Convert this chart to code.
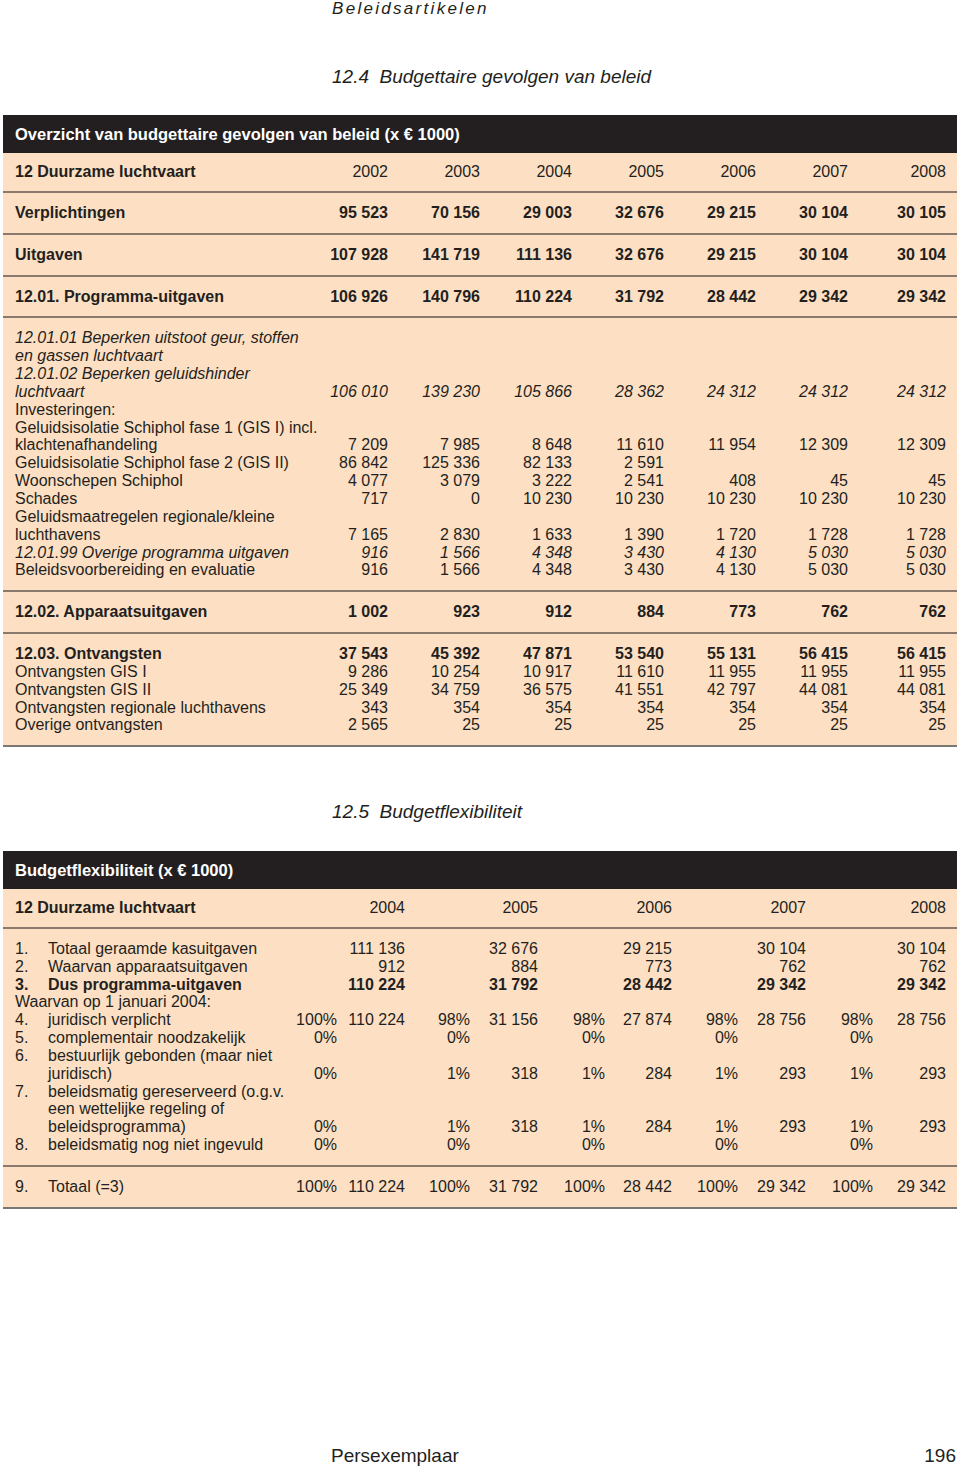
<!DOCTYPE html>
<html>
<head>
<meta charset="utf-8">
<script src="https://cdn.jsdelivr.net/npm/chart.js@4/dist/chart.umd.min.js"></script>
<style>
    body { margin: 0; width: 960px; height: 1469px; position: relative; overflow: hidden; background: #fff;
           font-family: "Liberation Sans Narrow", "Arial Narrow", "Liberation Sans", sans-serif; color: #231f20; }
    .abs { position: absolute; white-space: nowrap; }
    .tbl { position: absolute; left: 3px; width: 954px; background: #fddfc4; }
    .head { background: #231f20; color: #fff; font-weight: bold; height: 38px; line-height: 38px; padding-left: 12px; font-size: 16.5px; }
    .grp { padding: 11px 0; border-bottom: 2px solid #8a7a6d; }
    .grp.yr { padding: 10px 0; }
    .grp.last { border-bottom: 2px solid #7b7773; }
    .ln { position: relative; height: 17.85px; line-height: 17.85px; font-size: 16px; white-space: nowrap; }
    .ln span { position: absolute; top: 0; }
    .b { font-weight: bold; }
    .i { font-style: italic; }
</style>
</head>
<body>

<div class="abs i" style="left:332px;top:0px;font-size:17px;letter-spacing:2.3px;line-height:18px">Beleidsartikelen</div>
<div class="abs i" style="left:332px;top:66px;font-size:19px;line-height:22px">12.4&nbsp; Budgettaire gevolgen van beleid</div>
<div class="abs i" style="left:332px;top:801px;font-size:19px;line-height:22px">12.5&nbsp; Budgetflexibiliteit</div>
<div class="abs" style="left:331px;top:1445px;font-size:19px;line-height:22px">Persexemplaar</div>
<div class="abs" style="right:4px;top:1445px;font-size:19px;line-height:22px">196</div>

<div id="table1" class="tbl" style="top:115px"></div>
<div id="table2" class="tbl" style="top:851px"></div>

<script>
    // Overzicht van budgettaire gevolgen van beleid (x 1000 euro)
    const years1 = ['2002', '2003', '2004', '2005', '2006', '2007', '2008'];
    const verplichtingen = [95523, 70156, 29003, 32676, 29215, 30104, 30105];
    const uitgaven = [107928, 141719, 111136, 32676, 29215, 30104, 30104];
    const programmaUitgaven = [106926, 140796, 110224, 31792, 28442, 29342, 29342];
    const geluidshinder = [106010, 139230, 105866, 28362, 24312, 24312, 24312];
    const gis1 = [7209, 7985, 8648, 11610, 11954, 12309, 12309];
    const gis2 = [86842, 125336, 82133, 2591, null, null, null];
    const woonschepen = [4077, 3079, 3222, 2541, 408, 45, 45];
    const schades = [717, 0, 10230, 10230, 10230, 10230, 10230];
    const regionaleLuchthavens = [7165, 2830, 1633, 1390, 1720, 1728, 1728];
    const overigeProgramma = [916, 1566, 4348, 3430, 4130, 5030, 5030];
    const beleidsvoorbereiding = [916, 1566, 4348, 3430, 4130, 5030, 5030];
    const apparaatsuitgaven = [1002, 923, 912, 884, 773, 762, 762];
    const ontvangsten = [37543, 45392, 47871, 53540, 55131, 56415, 56415];
    const ontvangstenGis1 = [9286, 10254, 10917, 11610, 11955, 11955, 11955];
    const ontvangstenGis2 = [25349, 34759, 36575, 41551, 42797, 44081, 44081];
    const ontvangstenRegionaal = [343, 354, 354, 354, 354, 354, 354];
    const overigeOntvangsten = [2565, 25, 25, 25, 25, 25, 25];

    // Budgetflexibiliteit (x 1000 euro)
    const years2 = ['2004', '2005', '2006', '2007', '2008'];
    const totaalKasuitgaven = [111136, 32676, 29215, 30104, 30104];
    const apparaat2 = [912, 884, 773, 762, 762];
    const programma2 = [110224, 31792, 28442, 29342, 29342];
    const juridischPct = [100, 98, 98, 98, 98];
    const juridisch = [110224, 31156, 27874, 28756, 28756];
    const complementairPct = [0, 0, 0, 0, 0];
    const bestuurlijkPct = [0, 1, 1, 1, 1];
    const bestuurlijk = [null, 318, 284, 293, 293];
    const gereserveerdPct = [0, 1, 1, 1, 1];
    const gereserveerd = [null, 318, 284, 293, 293];
    const nietIngevuldPct = [0, 0, 0, 0, 0];
    const totaalPct = [100, 100, 100, 100, 100];
    const totaal = [110224, 31792, 28442, 29342, 29342];

    // right edges of the columns (page x)
    const TABLE_LEFT = 3, TABLE_RIGHT = 957;
    const edges1 = [388, 480, 572, 664, 756, 848, 946];
    const pctEdges2 = [337, 470, 605, 738, 873];
    const valEdges2 = [405, 538, 672, 806, 946];

    function fmt(n) {
        if (n === null || n === undefined) return '';
        if (typeof n === 'string') return n;
        return String(n).replace(/\B(?=(\d{3})+(?!\d))/g, ' ');
    }

    function addSpan(line, text, cls, left, right) {
        const s = document.createElement('span');
        s.textContent = text;
        if (cls) s.className = cls;
        if (left !== undefined) s.style.left = (left - TABLE_LEFT) + 'px';
        if (right !== undefined) s.style.right = (TABLE_RIGHT - right) + 'px';
        line.appendChild(s);
    }

    function buildTable(id, title, groups, drawLine) {
        const table = document.getElementById(id);
        const head = document.createElement('div');
        head.className = 'head';
        head.textContent = title;
        table.appendChild(head);
        groups.forEach(function(g, gi) {
            const grp = document.createElement('div');
            grp.className = 'grp' + (g.cls ? ' ' + g.cls : '') + (gi === groups.length - 1 ? ' last' : '');
            g.lines.forEach(function(l) {
                const line = document.createElement('div');
                line.className = 'ln';
                drawLine(line, l);
                grp.appendChild(line);
            });
            table.appendChild(grp);
        });
    }

    // Table 1
    const groups1 = [
        { cls: 'yr', lines: [{ t: '12 Duurzame luchtvaart', c: 'b', v: years1 }] },
        { lines: [{ t: 'Verplichtingen', c: 'b', v: verplichtingen, vc: 'b' }] },
        { lines: [{ t: 'Uitgaven', c: 'b', v: uitgaven, vc: 'b' }] },
        { lines: [{ t: '12.01. Programma-uitgaven', c: 'b', v: programmaUitgaven, vc: 'b' }] },
        { lines: [
            { t: '12.01.01 Beperken uitstoot geur, stoffen', c: 'i' },
            { t: 'en gassen luchtvaart', c: 'i' },
            { t: '12.01.02 Beperken geluidshinder', c: 'i' },
            { t: 'luchtvaart', c: 'i', v: geluidshinder, vc: 'i' },
            { t: 'Investeringen:' },
            { t: 'Geluidsisolatie Schiphol fase 1 (GIS I) incl.' },
            { t: 'klachtenafhandeling', v: gis1 },
            { t: 'Geluidsisolatie Schiphol fase 2 (GIS II)', v: gis2 },
            { t: 'Woonschepen Schiphol', v: woonschepen },
            { t: 'Schades', v: schades },
            { t: 'Geluidsmaatregelen regionale/kleine' },
            { t: 'luchthavens', v: regionaleLuchthavens },
            { t: '12.01.99 Overige programma uitgaven', c: 'i', v: overigeProgramma, vc: 'i' },
            { t: 'Beleidsvoorbereiding en evaluatie', v: beleidsvoorbereiding }
        ] },
        { lines: [{ t: '12.02. Apparaatsuitgaven', c: 'b', v: apparaatsuitgaven, vc: 'b' }] },
        { lines: [
            { t: '12.03. Ontvangsten', c: 'b', v: ontvangsten, vc: 'b' },
            { t: 'Ontvangsten GIS I', v: ontvangstenGis1 },
            { t: 'Ontvangsten GIS II', v: ontvangstenGis2 },
            { t: 'Ontvangsten regionale luchthavens', v: ontvangstenRegionaal },
            { t: 'Overige ontvangsten', v: overigeOntvangsten }
        ] }
    ];

    buildTable('table1', 'Overzicht van budgettaire gevolgen van beleid (x € 1000)', groups1, function(line, l) {
        addSpan(line, l.t, l.c, 15);
        if (l.v) l.v.forEach(function(val, i) { addSpan(line, fmt(val), l.vc, undefined, edges1[i]); });
    });

    // Table 2
    const pct = function(p) { return p.map(function(x) { return x + '%'; }); };
    const groups2 = [
        { cls: 'yr', lines: [{ t0: '12 Duurzame luchtvaart', c: 'b', v: years2 }] },
        { lines: [
            { n: '1.', t: 'Totaal geraamde kasuitgaven', v: totaalKasuitgaven },
            { n: '2.', t: 'Waarvan apparaatsuitgaven', v: apparaat2 },
            { n: '3.', t: 'Dus programma-uitgaven', c: 'b', v: programma2, vc: 'b' },
            { t0: 'Waarvan op 1 januari 2004:' },
            { n: '4.', t: 'juridisch verplicht', p: pct(juridischPct), v: juridisch },
            { n: '5.', t: 'complementair noodzakelijk', p: pct(complementairPct) },
            { n: '6.', t: 'bestuurlijk gebonden (maar niet' },
            { t: 'juridisch)', p: pct(bestuurlijkPct), v: bestuurlijk },
            { n: '7.', t: 'beleidsmatig gereserveerd (o.g.v.' },
            { t: 'een wettelijke regeling of' },
            { t: 'beleidsprogramma)', p: pct(gereserveerdPct), v: gereserveerd },
            { n: '8.', t: 'beleidsmatig nog niet ingevuld', p: pct(nietIngevuldPct) }
        ] },
        { lines: [{ n: '9.', t: 'Totaal (=3)', p: pct(totaalPct), v: totaal }] }
    ];

    buildTable('table2', 'Budgetflexibiliteit (x € 1000)', groups2, function(line, l) {
        if (l.t0) addSpan(line, l.t0, l.c, 15);
        if (l.n) addSpan(line, l.n, l.c, 15);
        if (l.t) addSpan(line, l.t, l.c, 48);
        if (l.p) l.p.forEach(function(val, i) { addSpan(line, val, l.vc, undefined, pctEdges2[i]); });
        if (l.v) l.v.forEach(function(val, i) { addSpan(line, fmt(val), l.vc, undefined, valEdges2[i]); });
    });
</script>
</body>
</html>
